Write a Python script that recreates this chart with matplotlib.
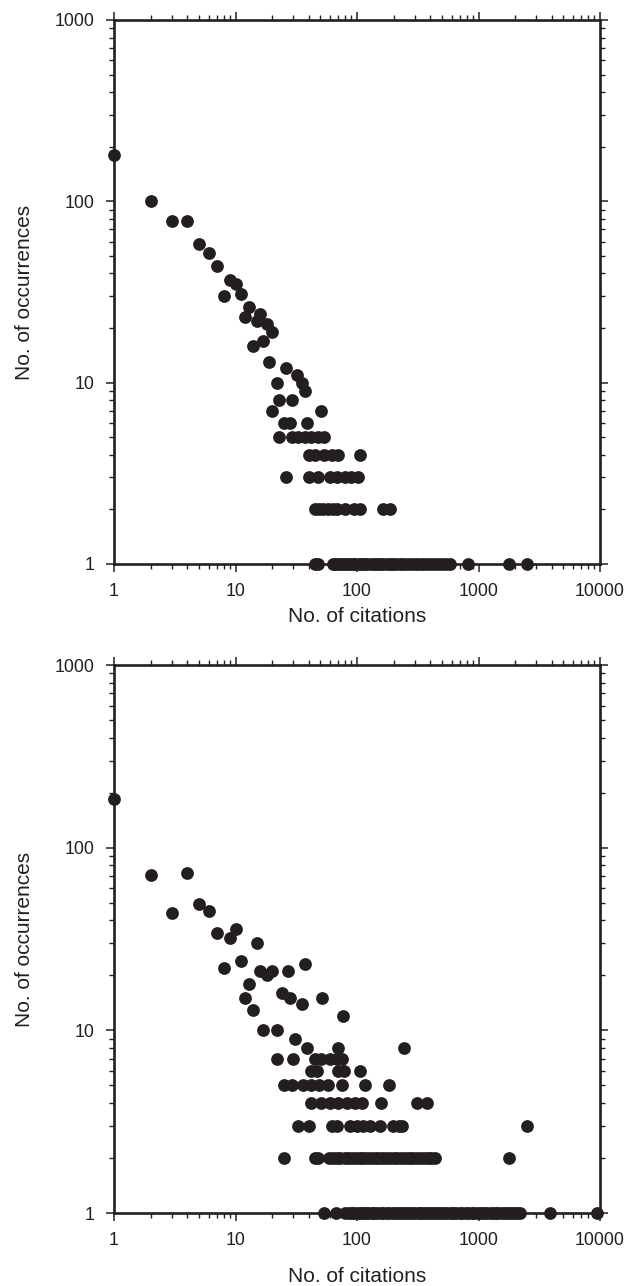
import matplotlib
matplotlib.use("Agg")
import matplotlib.pyplot as plt
from matplotlib.ticker import LogLocator, FixedLocator, NullFormatter

plt.rcParams['font.family'] = ['Liberation Sans', 'DejaVu Sans']

# --- Panel superior: puntos dispersos (citas, ocurrencias) ---
top_x = [1, 2, 3, 4, 5, 6, 7, 8, 9, 10, 11, 12, 13, 14, 15, 16, 17, 18, 19, 20,
         26, 32, 35, 37, 22, 23, 29, 20, 51, 25, 28, 39]
top_y = [180, 100, 78, 78, 58, 52, 44, 30, 37, 35, 31, 23, 26, 16, 22, 24, 17, 21, 13, 19,
         12, 11, 10, 9, 10, 8, 8, 7, 7, 6, 6, 6]

# filas con ocurrencias bajas (y = 5, 4, 3, 2, 1)
top_x5 = [23, 29, 33, 37, 42, 48, 54]
top_x4 = [40, 45, 54, 62, 70, 106]
top_x3 = [26, 40, 48, 60, 68, 80, 90, 101]
top_x2 = [45, 49, 53, 58, 63, 68, 80, 95, 106, 164, 188]
top_x1 = [45, 48, 63, 66, 70, 74, 78, 82, 87, 92, 97, 103, 109, 115, 122, 130, 138,
          146, 155, 165, 175, 186, 198, 210, 225, 240, 258, 277, 298, 320, 345, 372,
          400, 430, 465, 500, 540, 580, 820, 1780, 2500]

# --- Panel inferior ---
bot_x = [1, 2, 3, 4, 5, 6, 7, 8, 9, 10, 11, 12, 13, 14, 15, 16, 18, 20, 24, 27,
         28, 35, 37, 52, 77, 17, 22, 31, 39, 70, 245, 22, 30, 45, 51, 60, 68, 75]
bot_y = [185, 71, 44, 73, 49, 45, 34, 22, 32, 36, 24, 15, 18, 13, 30, 21, 20, 21, 16, 21,
         15, 14, 23, 15, 12, 10, 10, 9, 8, 8, 8, 7, 7, 7, 7, 7, 7, 7]

bot_x6 = [42, 47, 70, 78, 105]
bot_x5 = [25, 29, 36, 42, 49, 58, 75, 116, 183]
bot_x4 = [42, 51, 60, 70, 83, 96, 110, 157, 310, 375]
bot_x3 = [33, 40, 62, 68, 87, 100, 112, 128, 154, 198, 220, 235, 2500]
bot_x2 = [25, 45, 48, 59, 63, 68, 73, 79, 85, 91, 98, 105, 113, 121, 130, 140, 150,
          161, 173, 186, 200, 215, 231, 248, 266, 286, 307, 330, 355, 381, 410, 440,
          1780]
bot_x1 = [54, 67, 80, 86, 91, 95, 101, 107, 111, 118, 124, 133, 139, 147, 158, 165,
          177, 185, 196, 210, 222, 233, 250, 262, 280, 294, 315, 331, 348, 372, 390,
          418, 437, 468, 490, 525, 550, 590, 620, 655, 700, 735, 790, 825, 880, 925,
          990, 1040, 1110, 1160, 1250, 1310, 1400, 1460, 1570, 1640, 1760, 1850, 1970,
          2080, 2200, 3900, 9500]

xticks = [1, 10, 100, 1000, 10000]
xticklabels = ['1', '10', '100', '1000', '10000']
yticks = [1, 10, 100, 1000]
yticklabels = ['1', '10', '100', '1000']

ink = '#231f20'

fig = plt.figure(figsize=(6.3, 12.86), dpi=100)
ax1 = fig.add_axes([114 / 630, 1 - 564 / 1286, 486 / 630, 544 / 1286])
ax2 = fig.add_axes([114 / 630, 1 - 1213 / 1286, 486 / 630, 548 / 1286])


def pintar(ax, xs, ys, filas, xpad):
    todos_x = list(xs)
    todos_y = list(ys)
    for nivel, fila in filas:
        todos_x += fila
        todos_y += [nivel] * len(fila)
    ax.plot(todos_x, todos_y, 'o', color=ink, markersize=9.2, markeredgewidth=0,
            clip_on=False, zorder=3)
    ax.set_xscale('log')
    ax.set_yscale('log')
    ax.set_xlim(1, 10000)
    ax.set_ylim(1, 1000)
    ax.xaxis.set_major_locator(FixedLocator(xticks))
    ax.set_xticklabels(xticklabels)
    ax.yaxis.set_major_locator(FixedLocator(yticks))
    ax.set_yticklabels(yticklabels)
    ax.xaxis.set_minor_locator(LogLocator(base=10, subs=range(2, 10)))
    ax.yaxis.set_minor_locator(LogLocator(base=10, subs=range(2, 10)))
    ax.xaxis.set_minor_formatter(NullFormatter())
    ax.yaxis.set_minor_formatter(NullFormatter())
    for s in ax.spines.values():
        s.set_linewidth(1.9)
        s.set_color(ink)
    ax.tick_params(which='both', direction='out', top=True, right=True,
                   color=ink, labelcolor=ink, labelsize=12.8)
    ax.tick_params(which='major', length=6, width=1.1, pad=8)
    ax.tick_params(which='minor', length=3.5, width=1.0)
    ax.set_xlabel('No. of citations', fontsize=15, color=ink, labelpad=xpad)
    ax.set_ylabel('No. of occurrences', fontsize=15, color=ink, labelpad=15)


pintar(ax1, top_x, top_y, [(5, top_x5), (4, top_x4), (3, top_x3), (2, top_x2), (1, top_x1)], 5)
pintar(ax2, bot_x, bot_y, [(6, bot_x6), (5, bot_x5), (4, bot_x4), (3, bot_x3),
                           (2, bot_x2), (1, bot_x1)], 13)

fig.savefig('out.png', dpi=100)
